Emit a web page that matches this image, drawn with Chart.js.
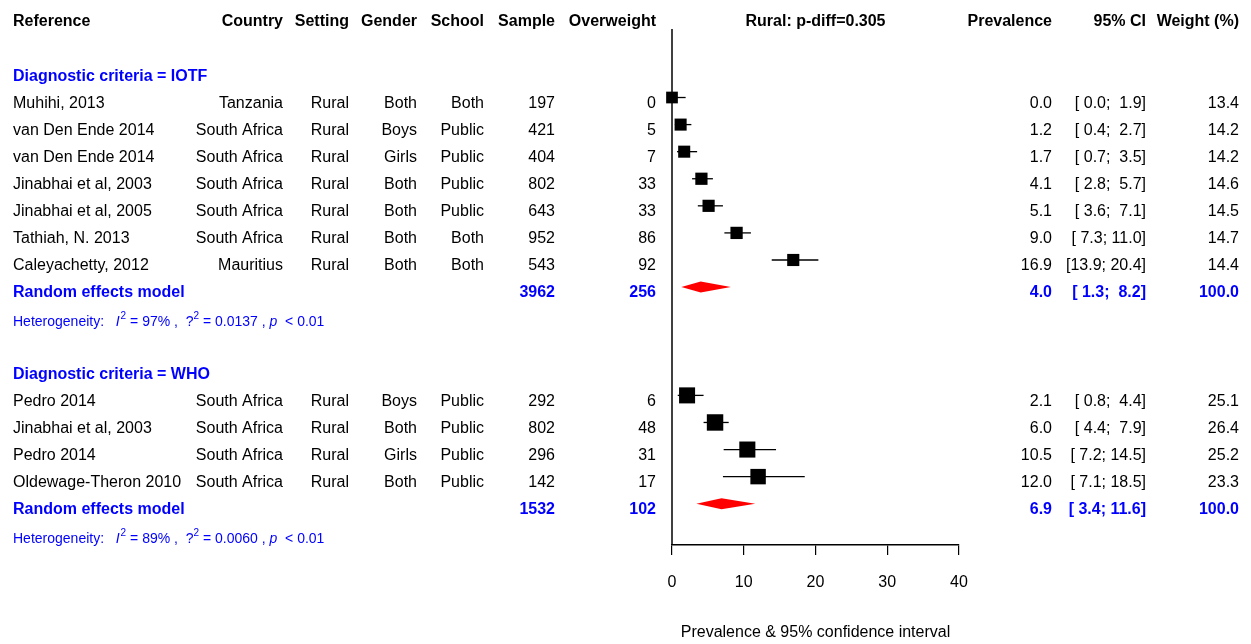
<!DOCTYPE html>
<html>
<head>
<meta charset="utf-8">
<script src="https://cdn.jsdelivr.net/npm/chart.js@4/dist/chart.umd.min.js"></script>
<style>
  html, body { margin: 0; padding: 0; background: #fff; }
  canvas { display: block; }
</style>
</head>
<body>
<canvas id="forest" width="1251" height="644" style="width:1251px;height:644px"></canvas>
<script>
// studies
const references = ['Muhihi, 2013', 'van Den Ende 2014', 'van Den Ende 2014', 'Jinabhai et al, 2003',
  'Jinabhai et al, 2005', 'Tathiah, N. 2013', 'Caleyachetty, 2012',
  'Pedro 2014', 'Jinabhai et al, 2003', 'Pedro 2014', 'Oldewage-Theron 2010'];
const criteria = ['IOTF', 'IOTF', 'IOTF', 'IOTF', 'IOTF', 'IOTF', 'IOTF', 'WHO', 'WHO', 'WHO', 'WHO'];
const countries = ['Tanzania', 'South Africa', 'South Africa', 'South Africa', 'South Africa', 'South Africa',
  'Mauritius', 'South Africa', 'South Africa', 'South Africa', 'South Africa'];
const settings = ['Rural', 'Rural', 'Rural', 'Rural', 'Rural', 'Rural', 'Rural', 'Rural', 'Rural', 'Rural', 'Rural'];
const genders = ['Both', 'Boys', 'Girls', 'Both', 'Both', 'Both', 'Both', 'Boys', 'Both', 'Girls', 'Both'];
const schools = ['Both', 'Public', 'Public', 'Public', 'Public', 'Both', 'Both', 'Public', 'Public', 'Public', 'Public'];
const samples = [197, 421, 404, 802, 643, 952, 543, 292, 802, 296, 142];
const overweight = [0, 5, 7, 33, 33, 86, 92, 6, 48, 31, 17];
const prevalence = [0.0, 1.2, 1.7, 4.1, 5.1, 9.0, 16.9, 2.1, 6.0, 10.5, 12.0];
const ciLower = [0.0, 0.4, 0.7, 2.8, 3.6, 7.3, 13.9, 0.8, 4.4, 7.2, 7.1];
const ciUpper = [1.9, 2.7, 3.5, 5.7, 7.1, 11.0, 20.4, 4.4, 7.9, 14.5, 18.5];
const weights = [13.4, 14.2, 14.2, 14.6, 14.5, 14.7, 14.4, 25.1, 26.4, 25.2, 23.3];

// subgroup summaries
const groups = ['IOTF', 'WHO'];
const pooledSample = [3962, 1532];
const pooledCases = [256, 102];
const pooledPrev = [4.0, 6.9];
const pooledLower = [1.3, 3.4];
const pooledUpper = [8.2, 11.6];
const hetI2 = ['97%', '89%'];
const hetTau2 = ['0.0137', '0.0060'];
const hetP = ['0.01', '0.01'];

const xTicks = [0, 10, 20, 30, 40];
const headers = ['Reference', 'Country', 'Setting', 'Gender', 'School', 'Sample', 'Overweight'];
const plotTitle = 'Rural: p-diff=0.305';

// row layout: header on row 0, then label / studies / pooled / heterogeneity / blank per group
const studyRows = [];
const labelRows = [];
const pooledRows = [];
const hetRows = [];
let row = 2;
groups.forEach(g => {
  labelRows.push(row);
  row++;
  criteria.forEach((c, i) => { if (c === g) studyRows[i] = row++; });
  pooledRows.push(row++);
  hetRows.push(row++);
  row++;
});

const FONT = '"Liberation Sans", Arial, sans-serif';
const BLUE = '#0000ff';
const colRight = { country: 283, setting: 349, gender: 417, school: 484, sample: 555, cases: 656,
  prev: 1052, ci: 1146, weight: 1239 };

const fmtCI = (lo, hi) => '[' + lo.toFixed(1).padStart(4) + '; ' + hi.toFixed(1).padStart(4) + ']';

function txt(ctx, s, x, y, align, font, color) {
  ctx.font = font;
  ctx.fillStyle = color;
  ctx.textAlign = align;
  ctx.textBaseline = 'middle';
  ctx.fillText(s, x, y);
  return ctx.measureText(s).width;
}

const forestPlugin = {
  id: 'forest',
  beforeDatasetsDraw(chart) {
    const { ctx, chartArea, scales: { x, y } } = chart;
    ctx.save();
    // line of no effect
    const x0 = x.getPixelForValue(0);
    ctx.strokeStyle = '#000';
    ctx.lineWidth = 1.5;
    ctx.beginPath();
    ctx.moveTo(x0, chartArea.top);
    ctx.lineTo(x0, chartArea.bottom);
    ctx.stroke();
    // confidence intervals
    ctx.lineWidth = 1.3;
    studyRows.forEach((r, i) => {
      const py = y.getPixelForValue(r);
      ctx.beginPath();
      ctx.moveTo(x.getPixelForValue(ciLower[i]), py);
      ctx.lineTo(x.getPixelForValue(ciUpper[i]), py);
      ctx.stroke();
    });
    // pooled diamonds
    ctx.fillStyle = '#ff0000';
    pooledRows.forEach((r, g) => {
      const py = y.getPixelForValue(r);
      const h = 5.5;
      ctx.beginPath();
      ctx.moveTo(x.getPixelForValue(pooledLower[g]), py);
      ctx.lineTo(x.getPixelForValue(pooledPrev[g]), py - h);
      ctx.lineTo(x.getPixelForValue(pooledUpper[g]), py);
      ctx.lineTo(x.getPixelForValue(pooledPrev[g]), py + h);
      ctx.closePath();
      ctx.fill();
    });
    ctx.restore();
  },
  afterDraw(chart) {
    const { ctx, scales: { x, y } } = chart;
    const ty = r => y.getPixelForValue(r) + 6;
    const reg = '16px ' + FONT;
    const bold = 'bold 16px ' + FONT;
    ctx.save();

    // header
    const hy = ty(0) - 0.5;
    txt(ctx, headers[0], 13, hy, 'left', bold, '#000');
    const hcols = [colRight.country, colRight.setting, colRight.gender, colRight.school, colRight.sample, colRight.cases];
    headers.slice(1).forEach((h, i) => txt(ctx, h, hcols[i], hy, 'right', bold, '#000'));
    txt(ctx, plotTitle, (x.getPixelForValue(xTicks[0]) + x.getPixelForValue(xTicks[xTicks.length - 1])) / 2, hy, 'center', bold, '#000');
    txt(ctx, 'Prevalence', colRight.prev, hy, 'right', bold, '#000');
    txt(ctx, '95% CI', colRight.ci, hy, 'right', bold, '#000');
    txt(ctx, 'Weight (%)', colRight.weight, hy, 'right', bold, '#000');

    // studies
    studyRows.forEach((r, i) => {
      const py = ty(r);
      txt(ctx, references[i], 13, py, 'left', reg, '#000');
      txt(ctx, countries[i], colRight.country, py, 'right', reg, '#000');
      txt(ctx, settings[i], colRight.setting, py, 'right', reg, '#000');
      txt(ctx, genders[i], colRight.gender, py, 'right', reg, '#000');
      txt(ctx, schools[i], colRight.school, py, 'right', reg, '#000');
      txt(ctx, String(samples[i]), colRight.sample, py, 'right', reg, '#000');
      txt(ctx, String(overweight[i]), colRight.cases, py, 'right', reg, '#000');
      txt(ctx, prevalence[i].toFixed(1), colRight.prev, py, 'right', reg, '#000');
      txt(ctx, fmtCI(ciLower[i], ciUpper[i]), colRight.ci, py, 'right', reg, '#000');
      txt(ctx, weights[i].toFixed(1), colRight.weight, py, 'right', reg, '#000');
    });

    groups.forEach((g, k) => {
      // subgroup label
      txt(ctx, 'Diagnostic criteria = ' + g, 13, ty(labelRows[k]), 'left', bold, BLUE);
      // pooled row
      const py = ty(pooledRows[k]);
      txt(ctx, 'Random effects model', 13, py, 'left', bold, BLUE);
      txt(ctx, String(pooledSample[k]), colRight.sample, py, 'right', bold, BLUE);
      txt(ctx, String(pooledCases[k]), colRight.cases, py, 'right', bold, BLUE);
      txt(ctx, pooledPrev[k].toFixed(1), colRight.prev, py, 'right', bold, BLUE);
      txt(ctx, fmtCI(pooledLower[k], pooledUpper[k]), colRight.ci, py, 'right', bold, BLUE);
      txt(ctx, '100.0', colRight.weight, py, 'right', bold, BLUE);
      // heterogeneity line
      const hy2 = ty(hetRows[k]) + 2;
      const small = '14px ' + FONT;
      const ital = 'italic 14px ' + FONT;
      const sup = '10px ' + FONT;
      let cx = 13;
      cx += txt(ctx, 'Heterogeneity:   ', cx, hy2, 'left', small, BLUE);
      cx += txt(ctx, 'I', cx, hy2, 'left', ital, BLUE) + 1;
      cx += txt(ctx, '2', cx, hy2 - 6, 'left', sup, BLUE);
      cx += txt(ctx, ' = ' + hetI2[k] + ' ,  ?', cx, hy2, 'left', small, BLUE);
      cx += txt(ctx, '2', cx, hy2 - 6, 'left', sup, BLUE);
      cx += txt(ctx, ' = ' + hetTau2[k] + ' , ', cx, hy2, 'left', small, BLUE);
      cx += txt(ctx, 'p', cx, hy2, 'left', ital, BLUE);
      txt(ctx, '  < ' + hetP[k], cx, hy2, 'left', small, BLUE);
    });
    ctx.restore();
  }
};

const squares = references.map((_, i) => ({ x: prevalence[i], y: studyRows[i] }));
const squareSide = weights.map(w => 3.2 * Math.sqrt(w));

new Chart(document.getElementById('forest'), {
  type: 'scatter',
  data: {
    datasets: [{
      label: 'Studies',
      data: squares,
      pointStyle: 'rect',
      pointRadius: squareSide.map(s => s / (2 * Math.SQRT1_2)),
      pointHoverRadius: squareSide.map(s => s / (2 * Math.SQRT1_2)),
      backgroundColor: '#000',
      borderWidth: 0,
      clip: false,
    }],
  },
  options: {
    responsive: false,
    animation: false,
    layout: { padding: { left: 672, right: 292, top: 29, bottom: 0 } },
    plugins: {
      legend: { display: false },
      tooltip: { enabled: false },
    },
    scales: {
      x: {
        type: 'linear',
        min: xTicks[0],
        max: xTicks[xTicks.length - 1],
        afterBuildTicks: scale => { scale.ticks = xTicks.map(v => ({ value: v })); },
        afterFit: scale => { scale.height = 99; },
        ticks: { color: '#000', font: { size: 16, family: FONT }, padding: 18, maxRotation: 0 },
        grid: { drawOnChartArea: false, drawTicks: true, tickLength: 10, color: '#000', lineWidth: 1.2 },
        border: { display: true, color: '#000', width: 1.5 },
        title: {
          display: true,
          text: 'Prevalence & 95% confidence interval',
          color: '#000',
          font: { size: 16, family: FONT },
          padding: { top: 0, bottom: 2 },
        },
      },
      y: {
        type: 'linear',
        display: false,
        reverse: true,
        min: 0.47,
        max: 19.525,
      },
    },
  },
  plugins: [forestPlugin],
});
</script>
</body>
</html>
